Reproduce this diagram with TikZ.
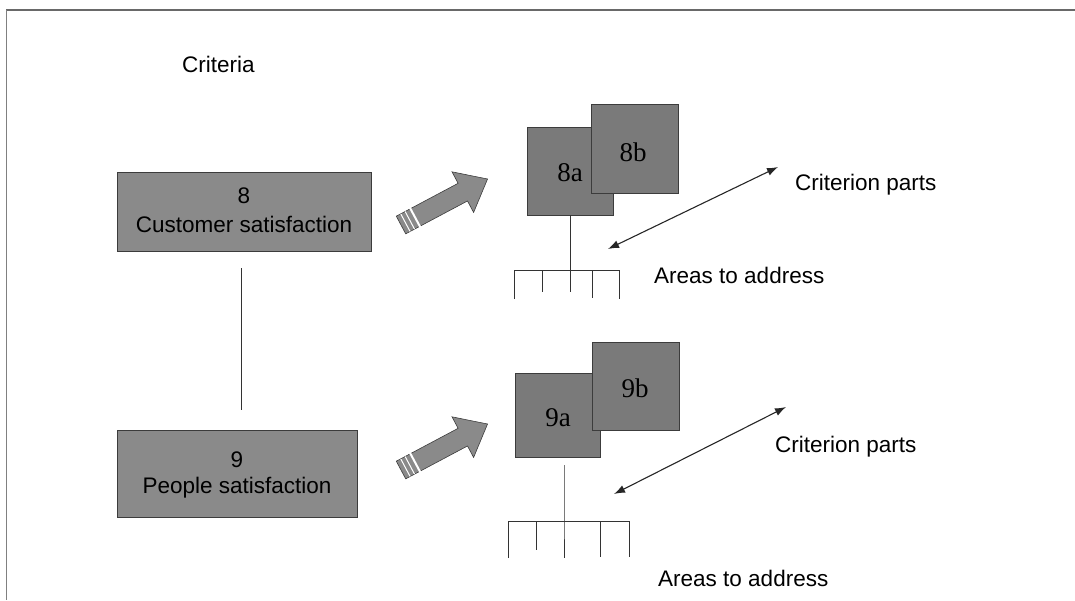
\documentclass[tikz,border=0pt]{standalone}
\usepackage{fontspec}
\setmainfont{Liberation Sans}
\newfontfamily\serifnum{Liberation Serif}
\usetikzlibrary{arrows.meta}
\definecolor{boxgray}{RGB}{138,138,138}
\definecolor{sqgray}{RGB}{122,122,122}
\definecolor{edgegray}{RGB}{60,60,60}
\definecolor{framegray}{RGB}{105,105,105}

\begin{document}
\begin{tikzpicture}[x=1pt,y=-1pt,
  crit/.style={draw=edgegray, fill=boxgray, line width=1pt, inner sep=0pt,
    align=center, font=\fontsize{22.5}{29}\selectfont},
  part/.style={draw=edgegray, fill=sqgray, line width=0.8pt, inner sep=0pt},
  partname/.style={inner sep=0pt, font=\serifnum\fontsize{27}{30}\selectfont},
  caption/.style={anchor=west, inner sep=0pt, font=\fontsize{22.5}{26}\selectfont},
  stem/.style={line width=1pt, black!80},
  twoway/.style={line width=1.1pt, black!85,
    {Latex[length=11pt,width=8pt]}-{Latex[length=11pt,width=8pt]}},
  blockarrow/.pic={
    \filldraw[fill=boxgray, draw=edgegray, line width=0.6pt]
      (0,-10) -- (70,-10) -- (70,-23) -- (98,0) -- (70,23) -- (70,10) -- (0,10) -- cycle;
    \draw[white, line width=1pt] (5,-10) -- (5,10) (10,-10) -- (10,10);
    \draw[white, line width=2pt] (16,-11) -- (16,11);
  }
]
\useasboundingbox (0,0) rectangle (1075,600);

% page frame
\draw[framegray, line width=2pt] (6,10) -- (1075,10);
\draw[gray, line width=1pt] (6,10) -- (6,600);

% heading
\node[caption] (heading) at (182,64) {Criteria};

% criteria boxes
\node[crit, minimum width=254pt, minimum height=79pt, text depth=2pt] (c8) at (244,211.5)
  {8\\Customer satisfaction};
\node[crit, minimum width=240pt, minimum height=87pt, text depth=2pt,
  font=\fontsize{22.5}{25.5}\selectfont] (c9) at (237,473.5)
  {9\\People satisfaction};
\coordinate (link8) at (241,268);
\coordinate (link9) at (241,410);
\draw[stem] (link8) -- (link9);

% block arrows
\path (401,225) pic[rotate=28] {blockarrow};
\path (401,470) pic[rotate=28] {blockarrow};

% criterion 8 parts
\node[part, minimum width=86pt, minimum height=88pt] (p8a) at (570,171) {};
\node[partname] (t8a) at (570,173) {8a};
\node[part, minimum width=87pt, minimum height=89pt] (p8b) at (634.5,148.5) {};
\node[partname] (t8b) at (633,152) {8b};

\coordinate (comb8) at (570,270);
\draw[stem] (p8a.south) -- (comb8);
\draw[stem] (514,299) -- (514,270) -- (619,270) -- (619,299);
\draw[stem] (542,270) -- (542,292);
\draw[stem] (comb8) -- (570,292);
\draw[stem] (592,270) -- (592,298);

\node[caption] (cp8) at (795,185) {Criterion parts};
\node[caption] (aa8) at (654,275) {Areas to address};
\coordinate (d8a) at (608,249);
\coordinate (d8b) at (778,167);
\draw[twoway] (d8a) -- (d8b);

% criterion 9 parts
\node[part, minimum width=85pt, minimum height=84pt] (p9a) at (557.5,415) {};
\node[partname] (t9a) at (558,418) {9a};
\node[part, minimum width=87pt, minimum height=88pt] (p9b) at (635.5,386) {};
\node[partname] (t9b) at (635,388) {9b};

\coordinate (stem9) at (564,465);
\coordinate (comb9) at (564,521);
\draw[stem] (stem9) -- (comb9) -- (564,558);
\draw[stem] (508,558) -- (508,521) -- (629,521) -- (629,557);
\draw[stem] (536,521) -- (536,550);
\draw[stem] (600,521) -- (600,557);

\node[caption] (cp9) at (775,447) {Criterion parts};
\node[caption] (aa9) at (658,578) {Areas to address};
\coordinate (d9a) at (614,494);
\coordinate (d9b) at (786,407);
\draw[twoway] (d9a) -- (d9b);
\end{tikzpicture}
\end{document}
